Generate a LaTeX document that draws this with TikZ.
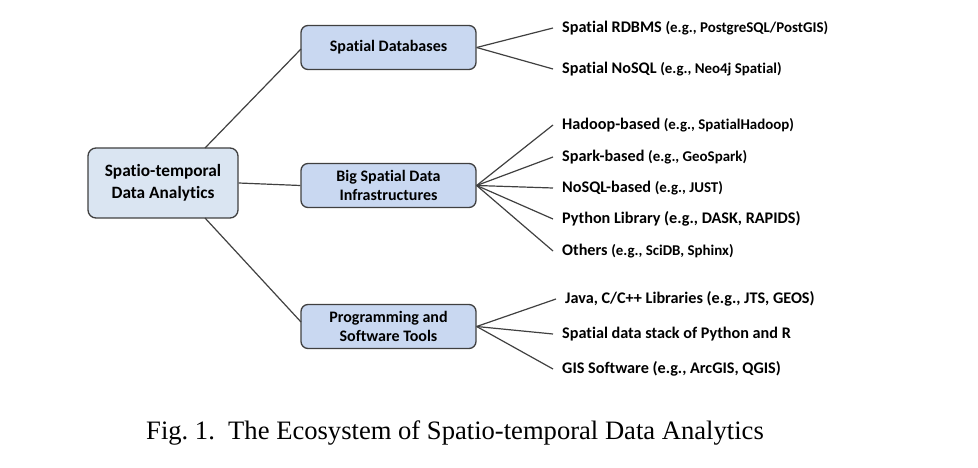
\documentclass[tikz,border=0pt]{standalone}
\usepackage{fontspec}
\setmainfont[Ligatures=NoCommon]{Carlito}
\newfontfamily\capfont{Liberation Serif}
\definecolor{rootfill}{HTML}{DAE5F2}
\definecolor{midfill}{HTML}{C9D8F1}
\definecolor{edgecol}{HTML}{404040}
\tikzset{
  x=1pt,y=-1pt,
  rootbox/.style={draw=edgecol,line width=1.3pt,rounded corners=8pt,fill=rootfill,minimum width=150pt,minimum height=70pt,align=center,font=\bfseries\fontsize{17.3}{22}\selectfont},
  midbox/.style={draw=edgecol,line width=1.3pt,rounded corners=7pt,fill=midfill,minimum width=175pt,minimum height=44pt,align=center,font=\bfseries\fontsize{16}{19.5}\selectfont},
  leaf/.style={anchor=west,inner sep=0pt,font=\bfseries\fontsize{16.2}{20}\selectfont},
  conn/.style={draw=edgecol,line width=1.2pt},
}
\newcommand{\sm}[1]{{\fontsize{14.9}{17}\selectfont #1}}
\begin{document}
\begin{tikzpicture}
\useasboundingbox (0,0) rectangle (978,468);
\node[rootbox] (root) at (163,183) {Spatio-temporal\\Data Analytics};
\node[midbox] (sd) at (388.5,47.5) {Spatial Databases};
\node[midbox] (bd) at (388.5,185.5) {Big Spatial Data\\Infrastructures};
\node[midbox] (pt) at (388.5,326.5) {Programming and\\Software Tools};
\coordinate (rtop) at (205,148);
\coordinate (rbot) at (205,218);
\coordinate (sdin) at (301,49);
\coordinate (ptin) at (301,322);
\draw[conn] (rtop) -- (sdin);
\draw[conn] (root.east) -- (bd.west);
\draw[conn] (rbot) -- (ptin);
% leaves
\node[leaf] (l1) at (562,28) {Spatial RDBMS \sm{(e.g., PostgreSQL/PostGIS)}};
\node[leaf] (l2) at (562,69) {Spatial NoSQL \sm{(e.g., Neo4j Spatial)}};
\node[leaf] (l3) at (562,125) {Hadoop-based \sm{(e.g., SpatialHadoop)}};
\node[leaf] (l4) at (562,157) {Spark-based \sm{(e.g., GeoSpark)}};
\node[leaf] (l5) at (562,188) {NoSQL-based \sm{(e.g., JUST)}};
\node[leaf] (l6) at (562,219) {Python Library (e.g., DASK, RAPIDS)};
\node[leaf] (l7) at (562,251) {Others \sm{(e.g., SciDB, Sphinx)}};
\node[leaf] (l8) at (565,299) {Java, C/C++ Libraries (e.g., JTS, GEOS)};
\node[leaf] (l9) at (562,334) {Spatial data stack of Python and R};
\node[leaf] (l10) at (562,369) {GIS Software (e.g., ArcGIS, QGIS)};
\foreach \l/\p in {l1/sd,l2/sd,l3/bd,l4/bd,l5/bd,l6/bd,l7/bd,l8/pt,l9/pt,l10/pt}{
  \draw[conn] (\p.east) -- ([xshift=-9pt]\l.west);
}
\node[font=\capfont\fontsize{26.6}{30}\selectfont] (cap) at (455,433) {Fig.~1.\ \ The Ecosystem of Spatio-temporal Data Analytics};
\end{tikzpicture}
\end{document}
